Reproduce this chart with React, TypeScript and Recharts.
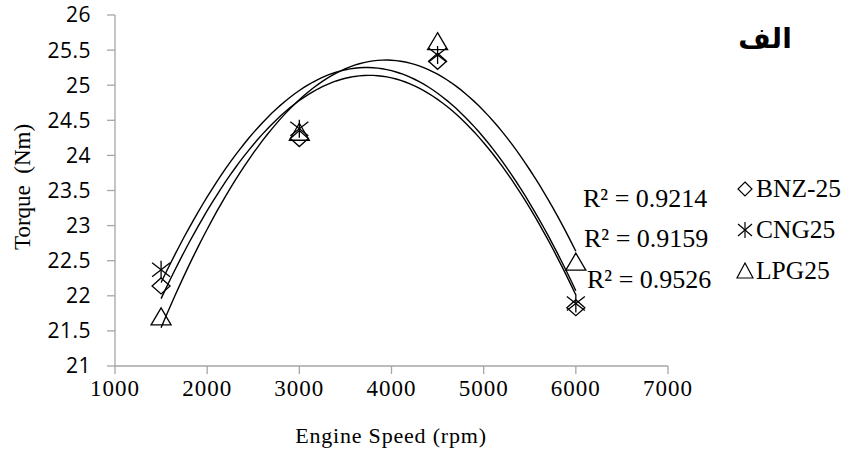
import React from "react";
import { ComposedChart, Scatter, Line, XAxis, YAxis } from "recharts";

const speeds = [1500, 3000, 4500, 6000];
const bnz = [22.14, 24.24, 25.34, 21.83];
const cng = [22.37, 24.38, 25.43, 21.89];
const lpg = [21.7, 24.33, 25.62, 22.48];
const seriesNames = ["BNZ-25", "CNG25", "LPG25"];
const r2Labels = ["R² = 0.9214", "R² = 0.9159", "R² = 0.9526"];
const xTicks = [1000, 2000, 3000, 4000, 5000, 6000, 7000];
const yTicks = [21, 21.5, 22, 22.5, 23, 23.5, 24, 24.5, 25, 25.5, 26];
const title = "الف";
const xTitle = "Engine Speed (rpm)";
const yTitle = "Torque  (Nm)";

type Pt = { x: number; y: number };

const toPoints = (ys: number[]): Pt[] => speeds.map((x, i) => ({ x, y: ys[i] }));

// least-squares quadratic (Excel polynomial trendline, order 2)
function quadFit(pts: Pt[]) {
  const s = (n: number) => pts.reduce((a, p) => a + Math.pow(p.x, n), 0);
  const t = (n: number) => pts.reduce((a, p) => a + Math.pow(p.x, n) * p.y, 0);
  const M = [
    [s(4), s(3), s(2), t(2)],
    [s(3), s(2), s(1), t(1)],
    [s(2), s(1), pts.length, t(0)],
  ];
  for (let i = 0; i < 3; i++) {
    for (let k = i + 1; k < 3; k++) {
      const f = M[k][i] / M[i][i];
      for (let j = i; j < 4; j++) M[k][j] -= f * M[i][j];
    }
  }
  const c = [0, 0, 0];
  for (let i = 2; i >= 0; i--) {
    let v = M[i][3];
    for (let j = i + 1; j < 3; j++) v -= M[i][j] * c[j];
    c[i] = v / M[i][i];
  }
  return (x: number) => c[0] * x * x + c[1] * x + c[2];
}

function trend(ys: number[]): Pt[] {
  const f = quadFit(toPoints(ys));
  const out: Pt[] = [];
  for (let x = speeds[0]; x <= speeds[speeds.length - 1]; x += 50) out.push({ x, y: f(x) });
  return out;
}

const Diamond = (cx: number, cy: number) => (
  <path d={`M${cx},${cy - 8}L${cx + 9},${cy}L${cx},${cy + 8}L${cx - 9},${cy}Z`} fill="none" stroke="#000" strokeWidth={1.3} />
);
const Star = (cx: number, cy: number) => (
  <g stroke="#000" strokeWidth={1.3}>
    <line x1={cx} y1={cy - 9} x2={cx} y2={cy + 9} />
    <line x1={cx - 9} y1={cy - 7} x2={cx + 9} y2={cy + 7} />
    <line x1={cx + 9} y1={cy - 7} x2={cx - 9} y2={cy + 7} />
  </g>
);
const Triangle = (cx: number, cy: number) => (
  <path d={`M${cx},${cy - 9}L${cx + 10},${cy + 8}L${cx - 10},${cy + 8}Z`} fill="none" stroke="#000" strokeWidth={1.3} />
);
const markers = [Diamond, Star, Triangle];

const mkShape = (idx: number) => (props: any) => {
  const { cx, cy } = props;
  if (cx == null || cy == null) return <g />;
  return markers[idx](cx, cy);
};

const legendBaselines = [197, 238, 279];
const r2X = [583, 584, 587];
const r2Y = [207, 247, 288];

const allSeries = [bnz, cng, lpg];

export default function App() {
  return (
    <div style={{ position: "absolute", left: 0, top: 0, width: 847, height: 450, background: "#fff" }}>
      <ComposedChart width={847} height={450} margin={{ top: 15, right: 179, left: 0, bottom: 0 }}>
        <XAxis
          type="number"
          dataKey="x"
          domain={[1000, 7000]}
          ticks={xTicks}
          interval={0}
          height={84}
          axisLine={{ stroke: "#a6a6a6", strokeWidth: 1.3 }}
          tickLine={{ stroke: "#a6a6a6", strokeWidth: 1.3 }}
          tickSize={8}
          tick={{ fill: "#000", fontFamily: "'Liberation Serif', serif", fontSize: 23, letterSpacing: 1 }}
          tickMargin={6}
        />
        <YAxis
          type="number"
          dataKey="y"
          domain={[21, 26]}
          ticks={yTicks}
          interval={0}
          width={115}
          axisLine={{ stroke: "#a6a6a6", strokeWidth: 1.3 }}
          tickLine={{ stroke: "#a6a6a6", strokeWidth: 1.3 }}
          tickSize={8}
          tickMargin={16}
          tick={{ fill: "#000", fontFamily: "'Open Sans', sans-serif", fontSize: 21, letterSpacing: 0.5 }}
        />
        {allSeries.map((ys, i) => (
          <Line
            key={"t" + i}
            data={trend(ys)}
            dataKey="y"
            type="linear"
            stroke="#000"
            strokeWidth={1.4}
            dot={false}
            activeDot={false}
            legendType="none"
            isAnimationActive={false}
          />
        ))}
        {allSeries.map((ys, i) => (
          <Scatter
            key={"s" + i}
            name={seriesNames[i]}
            data={toPoints(ys)}
            dataKey="y"
            shape={mkShape(i)}
            isAnimationActive={false}
          />
        ))}
      </ComposedChart>
      <svg width={847} height={450} style={{ position: "absolute", left: 0, top: 0, pointerEvents: "none" }}>
        <text x={765} y={48} textAnchor="middle" fontFamily="'DejaVu Sans', sans-serif" fontWeight="bold" fontSize={28}>{title}</text>
        <text x={391} y={443} textAnchor="middle" fontFamily="'Liberation Serif', serif" fontSize={22} letterSpacing={0.8}>{xTitle}</text>
        <text x={0} y={0} transform="translate(30,187) rotate(-90)" textAnchor="middle" fontFamily="'Liberation Serif', serif" fontSize={23} style={{ whiteSpace: "pre" }}>{yTitle}</text>
        {r2Labels.map((t, i) => (
          <text key={t} x={r2X[i]} y={r2Y[i]} fontFamily="'Liberation Serif', serif" fontSize={26}>{t}</text>
        ))}
        {seriesNames.map((n, i) => {
          const by = legendBaselines[i];
          const cx = 745;
          const cy = by - 8;
          return (
            <g key={n}>
              {i === 0 && <path d={`M${cx},${cy - 7}L${cx + 7},${cy}L${cx},${cy + 7}L${cx - 7},${cy}Z`} fill="none" stroke="#000" strokeWidth={1.2} />}
              {i === 1 && (
                <g stroke="#000" strokeWidth={1.2}>
                  <line x1={cx} y1={cy - 8} x2={cx} y2={cy + 8} />
                  <line x1={cx - 7} y1={cy - 6} x2={cx + 7} y2={cy + 6} />
                  <line x1={cx + 7} y1={cy - 6} x2={cx - 7} y2={cy + 6} />
                </g>
              )}
              {i === 2 && <path d={`M${cx},${cy - 8}L${cx + 8},${cy + 7}L${cx - 8},${cy + 7}Z`} fill="none" stroke="#000" strokeWidth={1.2} />}
              <text x={756} y={by} fontFamily="'Liberation Serif', serif" fontSize={25.5}>{n}</text>
            </g>
          );
        })}
      </svg>
    </div>
  );
}
